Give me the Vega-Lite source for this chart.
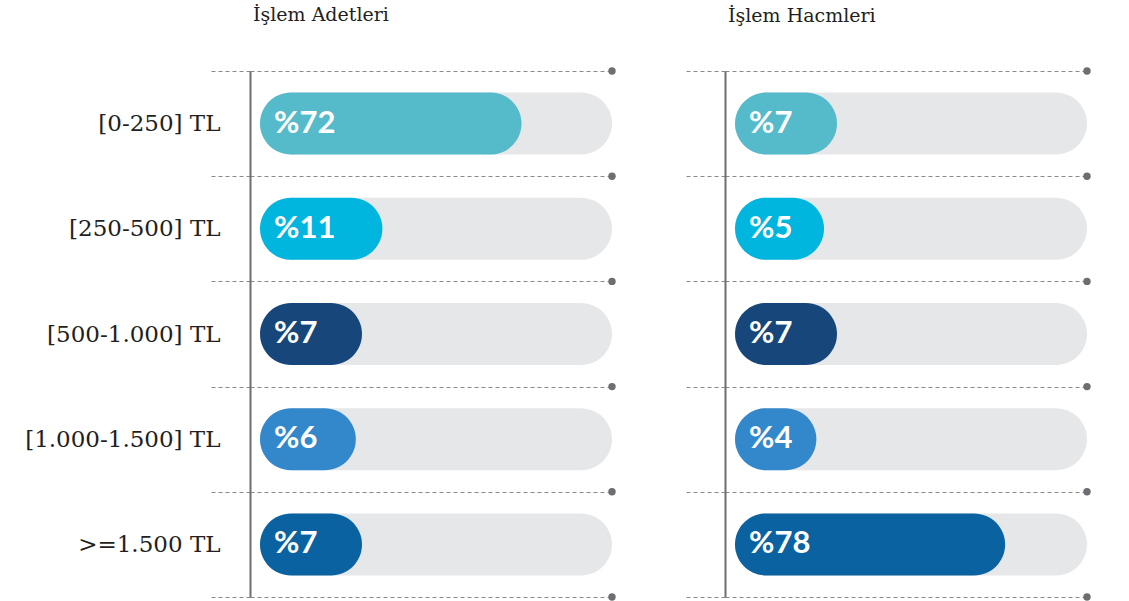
{
  "$schema": "https://vega.github.io/schema/vega-lite/v6.json",
  "padding": {"left": 24, "top": 6, "right": 5, "bottom": 0},
  "background": "white",
  "config": {"view": {"stroke": null}},
  "spacing": 68,
  "data": {"values": [
    {"panel": "adet", "cat": "[0-250] TL", "value": 72, "label": "%72"},
    {"panel": "adet", "cat": "[250-500] TL", "value": 11, "label": "%11"},
    {"panel": "adet", "cat": "[500-1.000] TL", "value": 7, "label": "%7"},
    {"panel": "adet", "cat": "[1.000-1.500] TL", "value": 6, "label": "%6"},
    {"panel": "adet", "cat": ">=1.500 TL", "value": 7, "label": "%7"},
    {"panel": "hacim", "cat": "[0-250] TL", "value": 7, "label": "%7"},
    {"panel": "hacim", "cat": "[250-500] TL", "value": 5, "label": "%5"},
    {"panel": "hacim", "cat": "[500-1.000] TL", "value": 7, "label": "%7"},
    {"panel": "hacim", "cat": "[1.000-1.500] TL", "value": 4, "label": "%4"},
    {"panel": "hacim", "cat": ">=1.500 TL", "value": 78, "label": "%78"}
  ]},
  "hconcat": [
    {
      "width": 362, "height": 526,
      "title": {"text": "İşlem Adetleri", "anchor": "start", "frame": "group", "dx": 3, "offset": 35, "font": "DejaVu Serif", "fontSize": 19, "fontWeight": "normal", "color": "#231f20"},
      "transform": [{"filter": "datum.panel === 'adet'"}],
      "encoding": {"y": {"field": "cat", "type": "nominal", "sort": ["[0-250] TL", "[250-500] TL", "[500-1.000] TL", "[1.000-1.500] TL", ">=1.500 TL"], "scale": {"type": "band", "paddingInner": 0, "paddingOuter": 0},
        "axis": {"title": null, "domain": true, "domainColor": "#6d6e71", "domainWidth": 2, "ticks": true, "tickBand": "extent", "tickSize": 40, "tickColor": "#8a8a8a", "tickDash": [4, 3], "tickWidth": 1.2, "grid": true, "gridColor": "#8a8a8a", "gridDash": [4, 3], "gridWidth": 1.2, "labels": true, "labelFont": "DejaVu Serif", "labelFontSize": 23, "labelColor": "#231f20", "labelPadding": -10, "labelLimit": 0}}},
      "layer": [
        {"mark": {"type": "bar", "color": "#E6E7E9", "cornerRadius": 31, "size": 62, "xOffset": 10},
         "encoding": {"x": {"datum": 0, "type": "quantitative", "scale": {"type": "pow", "exponent": 0.404, "domain": [0, 161], "nice": false, "zero": true}, "axis": null}, "x2": {"datum": 161}}},
        {"mark": {"type": "bar", "cornerRadius": 31, "size": 62, "xOffset": 10, "x2Offset": 10},
         "encoding": {"x": {"field": "value", "type": "quantitative", "stack": null}, "x2": {"datum": 0},
           "color": {"field": "cat", "type": "nominal", "scale": {"domain": ["[0-250] TL", "[250-500] TL", "[500-1.000] TL", "[1.000-1.500] TL", ">=1.500 TL"], "range": ["#55BBCB", "#00B6DE", "#17467B", "#3388CC", "#0A63A0"]}, "legend": null}}},
        {"mark": {"type": "text", "align": "left", "baseline": "middle", "dx": 24, "font": "Lato", "fontSize": 31, "fontWeight": "bold", "color": "white"},
         "encoding": {"x": {"datum": 0}, "text": {"field": "label"}}},
        {"mark": {"type": "circle", "size": 55, "color": "#6d6e71", "opacity": 1},
         "encoding": {"x": {"datum": 161}, "y": {"field": "cat", "type": "nominal", "sort": ["[0-250] TL", "[250-500] TL", "[500-1.000] TL", "[1.000-1.500] TL", ">=1.500 TL"], "bandPosition": 0}}},
        {"transform": [{"filter": "datum.cat === '>=1.500 TL'"}],
         "mark": {"type": "circle", "size": 55, "color": "#6d6e71", "opacity": 1},
         "encoding": {"x": {"datum": 161}, "y": {"field": "cat", "type": "nominal", "sort": ["[0-250] TL", "[250-500] TL", "[500-1.000] TL", "[1.000-1.500] TL", ">=1.500 TL"], "bandPosition": 1}}}
      ]
    },
    {
      "width": 362, "height": 526,
      "title": {"text": "İşlem Hacmleri", "anchor": "start", "frame": "group", "dx": 3, "offset": 41, "font": "DejaVu Serif", "fontSize": 19, "fontWeight": "normal", "color": "#231f20"},
      "transform": [{"filter": "datum.panel === 'hacim'"}],
      "encoding": {"y": {"field": "cat", "type": "nominal", "sort": ["[0-250] TL", "[250-500] TL", "[500-1.000] TL", "[1.000-1.500] TL", ">=1.500 TL"], "scale": {"type": "band", "paddingInner": 0, "paddingOuter": 0},
        "axis": {"title": null, "domain": true, "domainColor": "#6d6e71", "domainWidth": 2, "ticks": true, "tickBand": "extent", "tickSize": 40, "tickColor": "#8a8a8a", "tickDash": [4, 3], "tickWidth": 1.2, "grid": true, "gridColor": "#8a8a8a", "gridDash": [4, 3], "gridWidth": 1.2, "labels": false}}},
      "layer": [
        {"mark": {"type": "bar", "color": "#E6E7E9", "cornerRadius": 31, "size": 62, "xOffset": 10},
         "encoding": {"x": {"datum": 0, "type": "quantitative", "scale": {"type": "pow", "exponent": 0.404, "domain": [0, 161], "nice": false, "zero": true}, "axis": null}, "x2": {"datum": 161}}},
        {"mark": {"type": "bar", "cornerRadius": 31, "size": 62, "xOffset": 10, "x2Offset": 10},
         "encoding": {"x": {"field": "value", "type": "quantitative", "stack": null}, "x2": {"datum": 0},
           "color": {"field": "cat", "type": "nominal", "scale": {"domain": ["[0-250] TL", "[250-500] TL", "[500-1.000] TL", "[1.000-1.500] TL", ">=1.500 TL"], "range": ["#55BBCB", "#00B6DE", "#17467B", "#3388CC", "#0A63A0"]}, "legend": null}}},
        {"mark": {"type": "text", "align": "left", "baseline": "middle", "dx": 24, "font": "Lato", "fontSize": 31, "fontWeight": "bold", "color": "white"},
         "encoding": {"x": {"datum": 0}, "text": {"field": "label"}}},
        {"mark": {"type": "circle", "size": 55, "color": "#6d6e71", "opacity": 1},
         "encoding": {"x": {"datum": 161}, "y": {"field": "cat", "type": "nominal", "sort": ["[0-250] TL", "[250-500] TL", "[500-1.000] TL", "[1.000-1.500] TL", ">=1.500 TL"], "bandPosition": 0}}},
        {"transform": [{"filter": "datum.cat === '>=1.500 TL'"}],
         "mark": {"type": "circle", "size": 55, "color": "#6d6e71", "opacity": 1},
         "encoding": {"x": {"datum": 161}, "y": {"field": "cat", "type": "nominal", "sort": ["[0-250] TL", "[250-500] TL", "[500-1.000] TL", "[1.000-1.500] TL", ">=1.500 TL"], "bandPosition": 1}}}
      ]
    }
  ]
}
